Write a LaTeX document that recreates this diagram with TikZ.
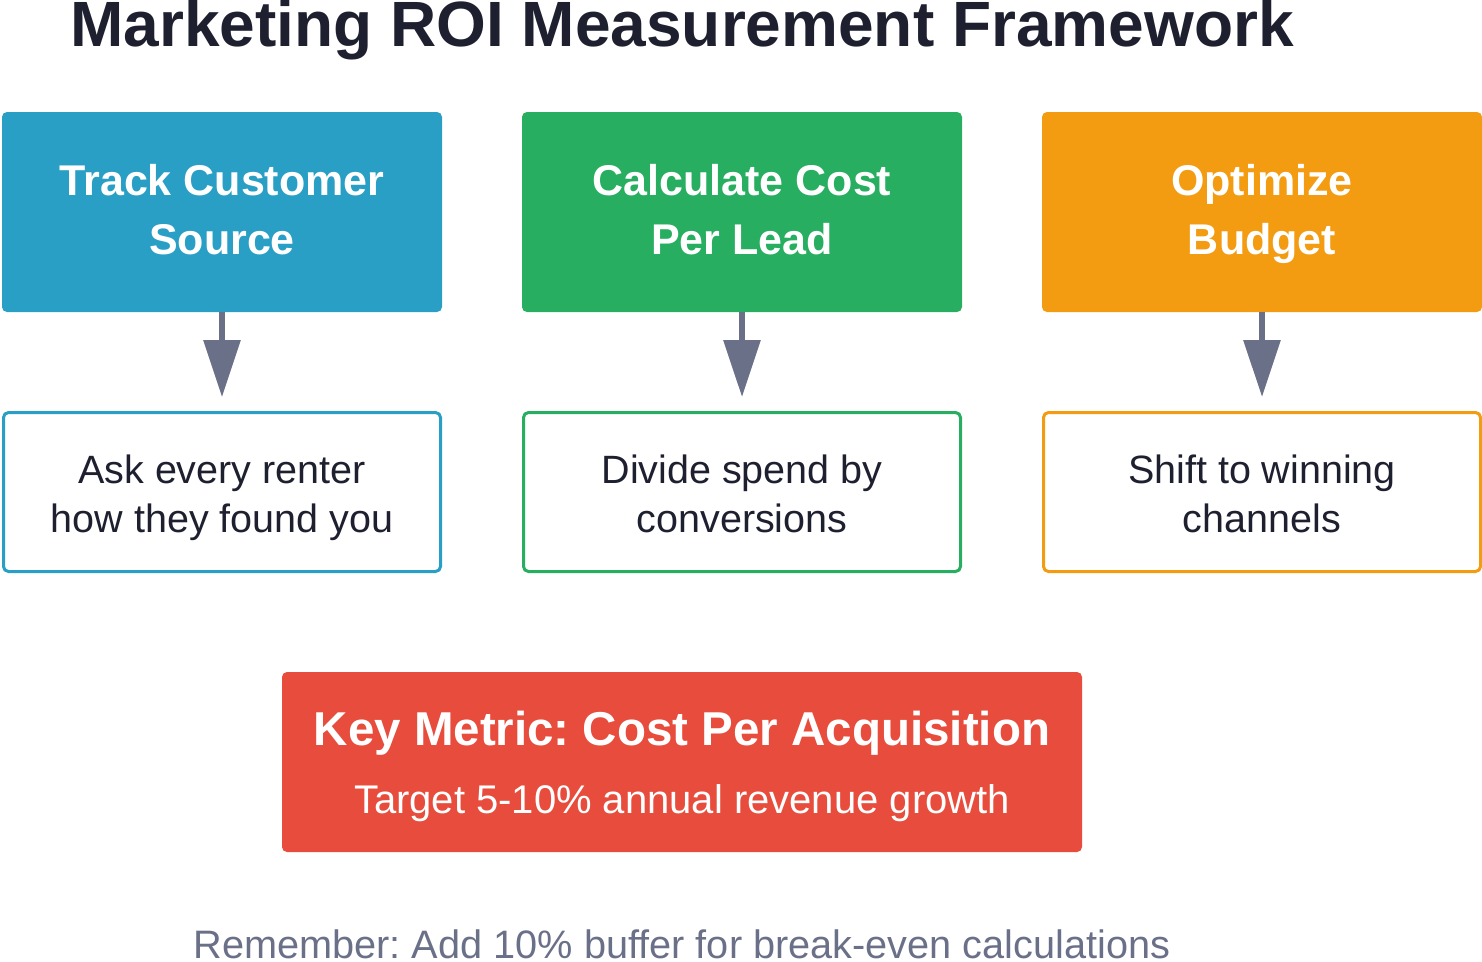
\documentclass[tikz,border=0pt]{standalone}
\usepackage{fontspec}
\setmainfont{Liberation Sans}
\usetikzlibrary{arrows.meta}
\frenchspacing
\definecolor{cblue}{HTML}{2A9FC6}
\definecolor{cgreen}{HTML}{27AE60}
\definecolor{corange}{HTML}{F39C12}
\definecolor{cred}{HTML}{E74C3C}
\definecolor{carrow}{HTML}{6B7089}
\definecolor{ctext}{HTML}{1E2030}
\tikzset{
  topbox/.style={rectangle, rounded corners=5pt, fill=#1, minimum width=440pt, minimum height=200pt, inner sep=0pt},
  lowbox/.style={rectangle, rounded corners=5pt, draw=#1, line width=3pt, fill=white,
    minimum width=437pt, minimum height=159pt, inner sep=0pt},
  toptext/.style={anchor=base, text=white, inner sep=0pt, font=\fontsize{43}{43}\selectfont\bfseries},
  lowtext/.style={anchor=base, text=ctext, inner sep=0pt, font=\fontsize{39.5}{39.5}\selectfont},
  flowarrow/.style={draw=carrow, line width=6pt, -{Triangle[width=36pt,length=57pt]}, shorten >=14pt},
}
\begin{document}
\begin{tikzpicture}[x=1pt,y=-1pt]
\useasboundingbox (0,0) rectangle (1482,961);
\node[anchor=base, text=ctext, inner sep=0pt, font=\fontsize{64}{64}\selectfont\bfseries] (title) at (682,46) {Marketing ROI Measurement Framework};

\node[topbox=cblue] (t1) at (222,212) {};
\node[topbox=cgreen] (t2) at (742,212) {};
\node[topbox=corange] (t3) at (1262,212) {};
\node[toptext] (t1a) at (222,195) {Track Customer};
\node[toptext] (t1b) at (222,254) {Source};
\node[toptext] (t2a) at (742,195) {Calculate Cost};
\node[toptext] (t2b) at (742,254) {Per Lead};
\node[toptext] (t3a) at (1262,195) {Optimize};
\node[toptext] (t3b) at (1262,254) {Budget};

\node[lowbox=cblue] (b1) at (222,492) {};
\node[lowbox=cgreen] (b2) at (742,492) {};
\node[lowbox=corange] (b3) at (1262,492) {};
\node[lowtext] (b1a) at (222,483) {Ask every renter};
\node[lowtext] (b1b) at (222,532) {how they found you};
\node[lowtext] (b2a) at (742,483) {Divide spend by};
\node[lowtext] (b2b) at (742,532) {conversions};
\node[lowtext] (b3a) at (1262,483) {Shift to winning};
\node[lowtext] (b3b) at (1262,532) {channels};

\draw[flowarrow] (t1.south) -- (b1.north);
\draw[flowarrow] (t2.south) -- (b2.north);
\draw[flowarrow] (t3.south) -- (b3.north);

\node[rectangle, rounded corners=5pt, fill=cred, minimum width=800pt, minimum height=180pt, inner sep=0pt] (key) at (682,762) {};
\node[anchor=base, text=white, inner sep=0pt, font=\fontsize{47.5}{47.5}\selectfont\bfseries] (keyt) at (682,745) {Key Metric: Cost Per Acquisition};
\node[anchor=base, text=white, inner sep=0pt, font=\fontsize{40}{40}\selectfont] (keys) at (682,813) {Target 5-10\% annual revenue growth};

\node[anchor=base, text=carrow, inner sep=0pt, font=\fontsize{39.7}{39.7}\selectfont] (foot) at (682,958) {Remember: Add 10\% buffer for break-even calculations};
\end{tikzpicture}
\end{document}
